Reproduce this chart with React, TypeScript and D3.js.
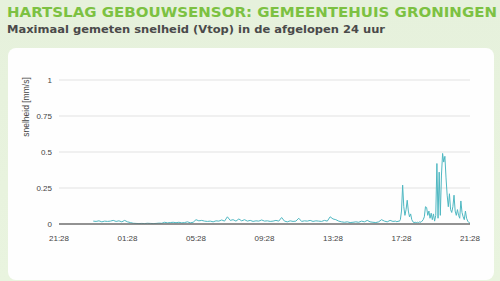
import React from "react";
import * as d3 from "d3";

const W = 500;
const H = 281;

const titleText = "HARTSLAG GEBOUWSENSOR: GEMEENTEHUIS GRONINGEN";
const subtitleText = "Maximaal gemeten snelheid (Vtop) in de afgelopen 24 uur";
const yAxisTitle = "snelheid [mm/s]";

const xTickLabels = ["21:28", "01:28", "05:28", "09:28", "13:28", "17:28", "21:28"];
const yTicks = [0, 0.25, 0.5, 0.75, 1];

// quiet period, 10-minute samples starting 23:28 (120 min after 21:28)
const quietStartMin = 120;
const quietStepMin = 10;
const quietValues = [
  0.02, 0.018, 0.022, 0.015, 0.02, 0.018,
  0.02, 0.025, 0.018, 0.022, 0.015, 0.025,
  0.015, 0.01, 0.005, 0.004, 0.003, 0.004,
  0.003, 0.005, 0.004, 0.003, 0.004, 0.006,
  0.005, 0.012, 0.008, 0.01, 0.012, 0.009,
  0.012, 0.008, 0.01, 0.015, 0.008, 0.012,
  0.03, 0.022, 0.025, 0.02, 0.018, 0.02,
  0.015, 0.022, 0.02, 0.028, 0.02, 0.05,
  0.025, 0.03, 0.02, 0.035, 0.022, 0.03,
  0.02, 0.025, 0.018, 0.022, 0.02, 0.028,
  0.02, 0.022, 0.018, 0.02, 0.025, 0.02,
  0.045, 0.02, 0.015, 0.022, 0.018, 0.02,
  0.04, 0.018, 0.022, 0.02, 0.025, 0.018,
  0.022, 0.02, 0.018, 0.025, 0.02, 0.05,
  0.035, 0.03, 0.02, 0.015, 0.012, 0.015,
  0.01, 0.012, 0.015, 0.012, 0.02, 0.015,
  0.025, 0.015, 0.012, 0.01, 0.015, 0.03,
  0.02, 0.015, 0.025, 0.018,
];

// active period, 4-minute samples starting 17:08 (1180 min after 21:28)
const activeStartMin = 1180;
const activeStepMin = 4;
const activeValues = [
  0.02, 0.015, 0.02, 0.018, 0.03, 0.09, 0.27, 0.12, 0.06, 0.1,
  0.165, 0.09, 0.05, 0.07, 0.03, 0.015, 0.01, 0.012, 0.01, 0.012,
  0.01, 0.015, 0.012, 0.02, 0.03, 0.05, 0.12, 0.115, 0.06, 0.09,
  0.04, 0.075, 0.03, 0.07, 0.02, 0.06, 0.42, 0.04, 0.36, 0.06,
  0.34, 0.49, 0.43, 0.47, 0.32, 0.2, 0.12, 0.21, 0.1, 0.08,
  0.12, 0.2, 0.09, 0.06, 0.1, 0.06, 0.04, 0.16, 0.08, 0.05,
  0.03, 0.09, 0.04, 0.02, 0.01, 0.005,
];

type Pt = { m: number; v: number };
const series: Pt[] = [
  ...quietValues.map((v, i) => ({ m: quietStartMin + i * quietStepMin, v })),
  ...activeValues.map((v, i) => ({ m: activeStartMin + i * activeStepMin, v })),
];

export default function App() {
  const x = d3.scaleLinear().domain([0, 1440]).range([59, 470]);
  const y = d3.scaleLinear().domain([0, 1]).range([224, 80]);
  const line = d3
    .line<Pt>()
    .x((d) => x(d.m))
    .y((d) => y(d.v));
  const font = "Arial, 'Liberation Sans', sans-serif";
  return (
    <svg
      width={W}
      height={H}
      style={{ position: "absolute", left: 0, top: 0 }}
    >
      <defs>
        <linearGradient id="bg" x1="0" y1="0" x2="0" y2="1">
          <stop offset="0" stopColor="#e6f1dc" />
          <stop offset="1" stopColor="#e9f4df" />
        </linearGradient>
      </defs>
      <rect x={0} y={0} width={W} height={H} fill="url(#bg)" />
      <rect x={8} y={48} width={486} height={232} rx={8} fill="#fefefe" />
      <text
        x={7}
        y={17}
        fontFamily="'DejaVu Sans', Verdana, sans-serif"
        fontWeight="bold"
        fontSize={14.5}
        fill="#7cc142"
        textLength={490}
        lengthAdjust="spacingAndGlyphs"
      >
        {titleText}
      </text>
      <text
        x={7}
        y={32.5}
        fontFamily="'DejaVu Sans', Verdana, sans-serif"
        fontWeight="bold"
        fontSize={10.5}
        fill="#4a4a4a"
        textLength={378}
        lengthAdjust="spacingAndGlyphs"
      >
        {subtitleText}
      </text>
      {yTicks.map((t) => (
        <g key={t}>
          {t > 0 && (
            <line
              x1={x(0)}
              x2={x(1440)}
              y1={y(t)}
              y2={y(t)}
              stroke="#e2e2e2"
              strokeWidth={1}
            />
          )}
          <text
            x={52}
            y={y(t) + 3}
            textAnchor="end"
            fontFamily={font}
            fontSize={8}
            fill="#444"
          >
            {t}
          </text>
        </g>
      ))}
      <text
        transform="translate(29,107) rotate(-90)"
        textAnchor="middle"
        fontFamily={font}
        fontSize={8.5}
        fill="#444"
      >
        {yAxisTitle}
      </text>
      <path
        d={line(series) ?? ""}
        fill="none"
        stroke="#4fb8c2"
        strokeWidth={1}
        strokeLinejoin="round"
      />
      <line
        x1={x(0)}
        x2={x(1440)}
        y1={y(0)}
        y2={y(0)}
        stroke="#6e6e6e"
        strokeWidth={1.5}
      />
      {xTickLabels.map((lbl, i) => (
        <text
          key={i}
          x={x(i * 240)}
          y={241}
          textAnchor="middle"
          fontFamily={font}
          fontSize={8}
          fill="#444"
        >
          {lbl}
        </text>
      ))}
    </svg>
  );
}
